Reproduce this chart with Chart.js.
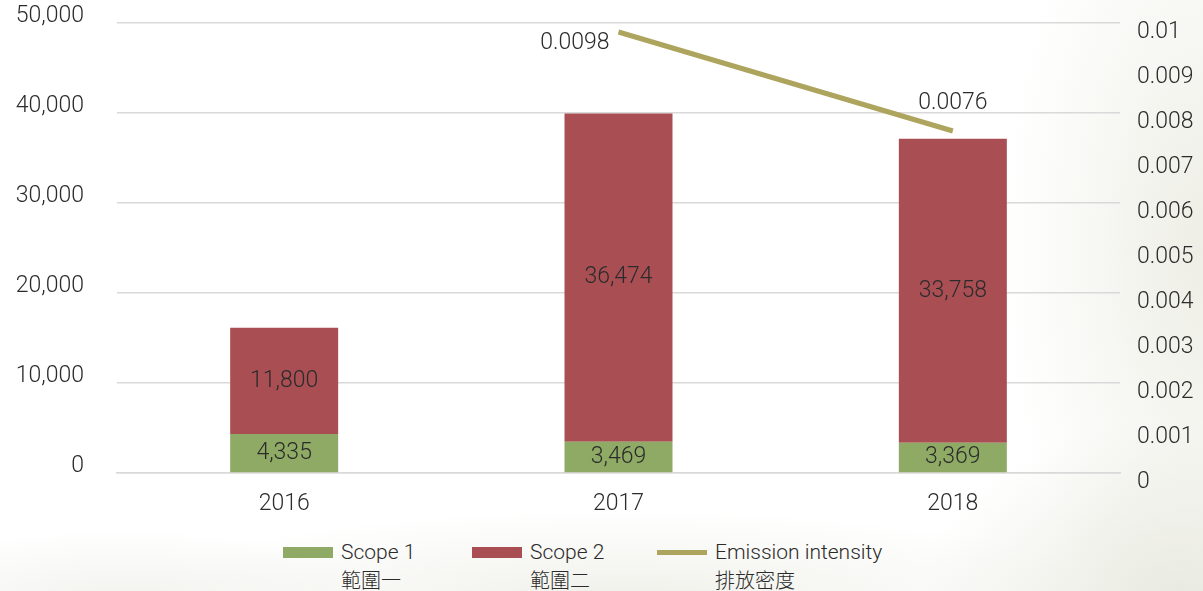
<!DOCTYPE html>
<html lang="en">

<head>
    <meta charset="UTF-8">
    <title>Emissions</title>
    <style>
        html, body {
            margin: 0;
            padding: 0;
        }

        body {
            width: 1203px;
            height: 591px;
            overflow: hidden;
            position: relative;
            background:
                radial-gradient(ellipse 260px 180px at 1180px 600px, #e8e9df 0%, rgba(232,233,223,0) 100%),
                radial-gradient(ellipse 200px 420px at 1203px 250px, #eeeee6 0%, rgba(238,238,230,0) 100%),
                radial-gradient(ellipse 500px 90px at 620px 600px, #f0f0ea 0%, rgba(240,240,234,0) 100%),
                radial-gradient(ellipse 260px 70px at 120px 600px, #f2f2ee 0%, rgba(242,242,238,0) 100%),
                #ffffff;
            font-family: Roboto, "Liberation Sans", sans-serif;
            color: #2b2b2b;
        }

        #wrap {
            position: absolute;
            left: 0;
            top: 0;
            width: 1203px;
            height: 530px;
        }

        .legend-item {
            position: absolute;
            top: 539px;
            font-weight: 300;
            font-size: 21px;
            line-height: 27px;
        }

        .legend-item .swatch {
            position: absolute;
            left: 0;
            top: 8px;
            width: 50px;
            height: 11px;
        }

        .legend-item .txt {
            position: absolute;
            left: 58px;
            top: 0;
            white-space: nowrap;
        }

        .legend-item .zh {
            font-family: "Noto Sans CJK TC", sans-serif;
            font-weight: 300;
            font-size: 20px;
        }
    </style>
    <script src="https://cdn.jsdelivr.net/npm/chart.js"></script>
</head>

<body>
    <div id="wrap"><canvas id="chart"></canvas></div>
    <div id="legend"></div>

    <script>
        const years = ["2016", "2017", "2018"];
        const scope1 = [4335, 3469, 3369];
        const scope2 = [11800, 36474, 33758];
        const intensity = [null, 0.0098, 0.0076];

        const leftMax = 50000;
        const leftStep = 10000;
        const rightMax = 0.01;
        const rightStep = 0.001;

        const legendItems = [
            { en: "Scope 1", zh: "範圍一", color: "#8faa64", line: false, left: 283 },
            { en: "Scope 2", zh: "範圍二", color: "#a94f54", line: false, left: 472 },
            { en: "Emission intensity", zh: "排放密度", color: "#ada45e", line: true, left: 657 }
        ];

        const FONT = { family: "Roboto, 'Liberation Sans', sans-serif", size: 23, weight: 300 };
        const TEXT = "#2b2b2b";
        const GRID = "#d9d9d9";

        // labels drawn on top of bars and next to the line points
        const valueLabels = {
            id: "valueLabels",
            afterDatasetsDraw(chart) {
                const ctx = chart.ctx;
                ctx.save();
                ctx.font = `${FONT.weight} ${FONT.size}px ${FONT.family}`;
                ctx.fillStyle = TEXT;
                ctx.textBaseline = "middle";

                [0, 1].forEach(di => {
                    const meta = chart.getDatasetMeta(di);
                    meta.data.forEach((bar, i) => {
                        const v = chart.data.datasets[di].data[i];
                        const p = bar.getProps(["x", "y", "base"], true);
                        ctx.textAlign = "center";
                        ctx.fillText(v.toLocaleString("en-US"), p.x, (p.y + p.base) / 2);
                    });
                });

                const lineMeta = chart.getDatasetMeta(2);
                lineMeta.data.forEach((pt, i) => {
                    const v = intensity[i];
                    if (v === null) return;
                    if (i === 1) {
                        ctx.textAlign = "right";
                        ctx.fillText(v.toString(), pt.x - 9, pt.y + 11);
                    } else {
                        ctx.textAlign = "center";
                        ctx.fillText(v.toString(), pt.x, pt.y - 28);
                    }
                });
                ctx.restore();
            }
        };

        new Chart(document.getElementById("chart"), {
            data: {
                labels: years,
                datasets: [
                    {
                        type: "bar",
                        label: "Scope 1",
                        data: scope1,
                        backgroundColor: legendItems[0].color,
                        yAxisID: "y",
                        order: 2,
                        barPercentage: 0.323,
                        categoryPercentage: 1
                    },
                    {
                        type: "bar",
                        label: "Scope 2",
                        data: scope2,
                        backgroundColor: legendItems[1].color,
                        yAxisID: "y",
                        order: 2,
                        barPercentage: 0.323,
                        categoryPercentage: 1
                    },
                    {
                        type: "line",
                        label: "Emission intensity",
                        data: intensity,
                        borderColor: legendItems[2].color,
                        borderWidth: 5,
                        pointRadius: 0,
                        yAxisID: "y1",
                        order: 1,
                        spanGaps: false
                    }
                ]
            },
            options: {
                responsive: true,
                maintainAspectRatio: false,
                animation: false,
                layout: { padding: { top: 23, left: 0, right: 0, bottom: 0 } },
                plugins: {
                    legend: { display: false },
                    tooltip: { enabled: false }
                },
                scales: {
                    x: {
                        stacked: true,
                        grid: { display: false },
                        border: { display: true, color: GRID, width: 1.5 },
                        ticks: { color: TEXT, font: FONT, padding: 9 },
                        afterFit: s => { s.height = 57; s.paddingLeft = 0; s.paddingRight = 0; }
                    },
                    y: {
                        stacked: true,
                        position: "left",
                        min: 0,
                        max: leftMax,
                        ticks: {
                            stepSize: leftStep,
                            color: TEXT,
                            font: FONT,
                            padding: 33,
                            labelOffset: -7,
                            callback: v => v.toLocaleString("en-US")
                        },
                        grid: { color: GRID, lineWidth: 1.5, drawTicks: false },
                        border: { display: false },
                        afterFit: s => { s.width = 117; s.paddingTop = 0; s.paddingBottom = 0; }
                    },
                    y1: {
                        position: "right",
                        min: 0,
                        max: rightMax,
                        ticks: {
                            stepSize: rightStep,
                            color: TEXT,
                            font: FONT,
                            padding: 9,
                            labelOffset: 9,
                            callback: v => parseFloat(v.toFixed(3)).toString()
                        },
                        grid: { display: false },
                        border: { display: false },
                        afterFit: s => { s.width = 83; s.paddingTop = 0; s.paddingBottom = 0; }
                    }
                }
            },
            plugins: [valueLabels]
        });

        const legend = document.getElementById("legend");
        legendItems.forEach(item => {
            const el = document.createElement("div");
            el.className = "legend-item";
            el.style.left = item.left + "px";
            const sw = document.createElement("div");
            sw.className = "swatch";
            sw.style.background = item.color;
            if (item.line) {
                sw.style.height = "5px";
                sw.style.top = "11px";
            }
            const txt = document.createElement("div");
            txt.className = "txt";
            txt.innerHTML = `<div>${item.en}</div><div class="zh">${item.zh}</div>`;
            el.appendChild(sw);
            el.appendChild(txt);
            legend.appendChild(el);
        });
    </script>
</body>

</html>
